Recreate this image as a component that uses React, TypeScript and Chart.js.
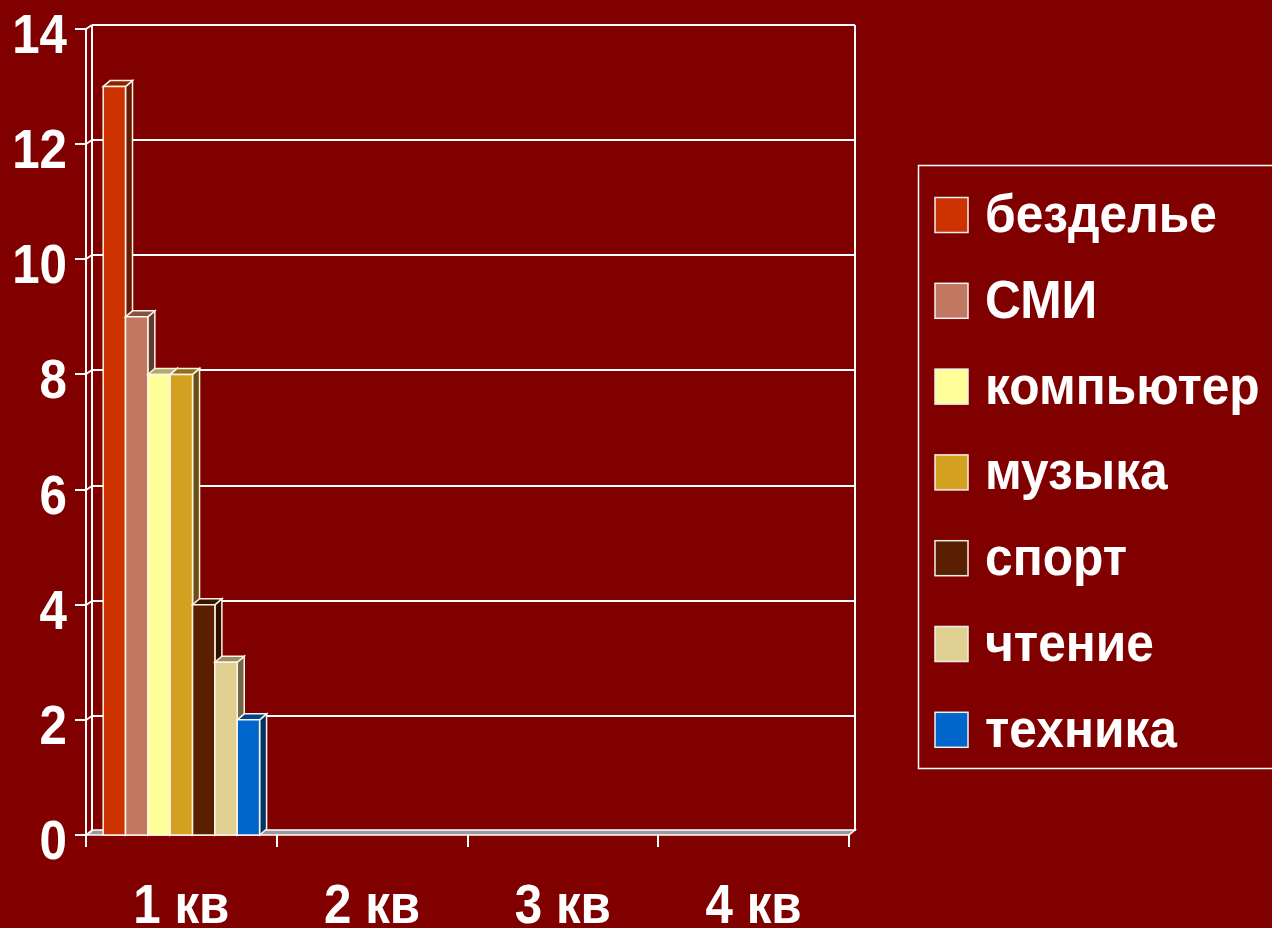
import React, { useEffect, useRef } from "react";
import { Chart, registerables } from "chart.js";

Chart.register(...registerables);

const categories = ["1 кв", "2 кв", "3 кв", "4 кв"];
const seriesNames = ["безделье", "СМИ", "компьютер", "музыка", "спорт", "чтение", "техника"];
const bezdelye = [13, null, null, null];
const smi = [9, null, null, null];
const computer = [8, null, null, null];
const music = [8, null, null, null];
const sport = [4, null, null, null];
const reading = [3, null, null, null];
const tech = [2, null, null, null];
const seriesValues = [bezdelye, smi, computer, music, sport, reading, tech];
const seriesColors = ["#CC3300", "#C07860", "#FFFF99", "#D4A020", "#5A1E00", "#E0D092", "#0066CC"];
const yMin = 0;
const yMax = 14;
const yStep = 2;

const FONT = "'Liberation Sans', Arial, sans-serif";
const DX = 6;
const DY = -4;
const BAR_DX = 7;
const BAR_DY = -6;
const BG = "#800000";
const AXIS_SCALE_X = 0.88;
const LEGEND_SCALE_X = 0.92;

function shade(hex: string, f: number) {
  const n = parseInt(hex.slice(1), 16);
  const r = Math.round(((n >> 16) & 255) * f);
  const g = Math.round(((n >> 8) & 255) * f);
  const b = Math.round((n & 255) * f);
  return `rgb(${r},${g},${b})`;
}

function poly(ctx: CanvasRenderingContext2D, pts: number[][], fill: string | null, stroke: string | null, lw = 1.5) {
  ctx.beginPath();
  ctx.moveTo(pts[0][0], pts[0][1]);
  for (let i = 1; i < pts.length; i++) ctx.lineTo(pts[i][0], pts[i][1]);
  ctx.closePath();
  if (fill) {
    ctx.fillStyle = fill;
    ctx.fill();
  }
  if (stroke) {
    ctx.strokeStyle = stroke;
    ctx.lineWidth = lw;
    ctx.stroke();
  }
}

function squeezedText(
  ctx: CanvasRenderingContext2D,
  text: string,
  x: number,
  y: number,
  sx: number,
  align: "left" | "right" | "center"
) {
  ctx.save();
  ctx.translate(x, y);
  ctx.scale(sx, 1);
  ctx.textAlign = align;
  ctx.textBaseline = "alphabetic";
  ctx.fillText(text, 0, 0);
  ctx.restore();
}

const wallPlugin = {
  id: "wall3d",
  beforeDatasetsDraw(chart: any) {
    const { ctx, chartArea } = chart;
    const { left, right, top, bottom } = chartArea;
    const ys = chart.scales.y;
    ctx.save();
    poly(
      ctx,
      [
        [left, bottom],
        [right, bottom],
        [right + DX, bottom + DY - 1],
        [left + DX, bottom + DY - 1],
      ],
      "#9a9a9a",
      "#ffffff",
      1.5
    );
    ctx.strokeStyle = "#ffffff";
    ctx.lineWidth = 2;
    ys.ticks.forEach((t: any) => {
      const py = Math.round(ys.getPixelForValue(t.value));
      ctx.beginPath();
      if (t.value !== yMin) {
        ctx.moveTo(left + DX, py + DY);
        ctx.lineTo(right + DX, py + DY);
      }
      ctx.moveTo(left, py);
      ctx.lineTo(left + DX, py + DY);
      ctx.moveTo(left - 11, py);
      ctx.lineTo(left, py);
      ctx.stroke();
    });
    ctx.beginPath();
    ctx.moveTo(left, top);
    ctx.lineTo(left, bottom);
    ctx.moveTo(left + DX, top + DY);
    ctx.lineTo(left + DX, bottom + DY);
    ctx.moveTo(right + DX, top + DY);
    ctx.lineTo(right + DX, bottom + DY);
    for (let i = 0; i <= categories.length; i++) {
      const px = Math.round(left + (i * (right - left)) / categories.length);
      ctx.moveTo(px, bottom);
      ctx.lineTo(px, bottom + 12);
    }
    ctx.stroke();
    ctx.restore();
  },
  afterDatasetsDraw(chart: any) {
    const { ctx } = chart;
    ctx.save();
    const n = chart.data.datasets.length;
    for (let j = 0; j < categories.length; j++) {
      for (let i = 0; i < n; i++) {
        const ds = chart.data.datasets[i];
        if (ds.data[j] === null || ds.data[j] === undefined) continue;
        const el = chart.getDatasetMeta(i).data[j];
        if (!el) continue;
        const p = el.getProps(["x", "y", "base", "width"], true);
        const l = p.x - p.width / 2;
        const r = p.x + p.width / 2;
        const t = p.y;
        const b = p.base;
        const col = ds.backgroundColor as string;
        const edge = "#fff4e8";
        poly(ctx, [[r, t], [r + BAR_DX, t + BAR_DY], [r + BAR_DX, b + BAR_DY], [r, b]], shade(col, 0.5), edge, 1.5);
        poly(ctx, [[l, t], [r, t], [r + BAR_DX, t + BAR_DY], [l + BAR_DX, t + BAR_DY]], shade(col, 0.68), edge, 1.5);
        poly(ctx, [[l, t], [r, t], [r, b], [l, b]], col, edge, 1.5);
      }
    }
    ctx.restore();
  },
  afterDraw(chart: any) {
    const { ctx, chartArea } = chart;
    const xs = chart.scales.x;
    const ys = chart.scales.y;
    ctx.save();
    ctx.fillStyle = "#ffffff";
    ctx.font = `bold 56px ${FONT}`;
    ys.ticks.forEach((t: any) => {
      const py = ys.getPixelForValue(t.value);
      squeezedText(ctx, String(t.value), 67, py + 24, AXIS_SCALE_X, "right");
    });
    categories.forEach((c, i) => {
      const px = xs.getPixelForTick(i);
      squeezedText(ctx, c, px, chartArea.bottom + 88, AXIS_SCALE_X, "center");
    });

    const bx = 918;
    const by = 165;
    const bw = 380;
    const bh = 603;
    ctx.strokeStyle = "#ffffff";
    ctx.lineWidth = 1.5;
    ctx.strokeRect(bx + 0.5, by + 0.5, bw, bh);
    const first = 215;
    const gap = 85.8;
    chart.data.datasets.forEach((ds: any, i: number) => {
      const cy = first + i * gap;
      ctx.fillStyle = ds.backgroundColor;
      ctx.fillRect(935, cy - 17.5, 33, 35);
      ctx.strokeStyle = "#f0f0f0";
      ctx.lineWidth = 1.5;
      ctx.strokeRect(935, cy - 17.5, 33, 35);
      ctx.fillStyle = "#ffffff";
      ctx.font = `bold 54px ${FONT}`;
      squeezedText(ctx, ds.label, 985, cy + 17, LEGEND_SCALE_X, "left");
    });
    ctx.restore();
  },
};

export default function App() {
  const ref = useRef<HTMLCanvasElement | null>(null);
  useEffect(() => {
    document.body.style.margin = "0";
    document.body.style.background = BG;
    const canvas = ref.current;
    if (!canvas) return;
    const chart = new Chart(canvas, {
      type: "bar",
      data: {
        labels: categories,
        datasets: seriesNames.map((name, i) => ({
          label: name,
          data: seriesValues[i],
          backgroundColor: seriesColors[i],
          borderWidth: 0,
          categoryPercentage: 0.82,
          barPercentage: 1,
        })),
      },
      options: {
        responsive: false,
        animation: false,
        layout: { padding: { top: 29, right: 1272 - 849, left: 0, bottom: 0 } },
        plugins: { legend: { display: false }, tooltip: { enabled: false } },
        scales: {
          x: {
            grid: { display: false },
            border: { display: false },
            ticks: { display: false },
            afterFit(scale: any) {
              scale.height = 928 - 835;
            },
          },
          y: {
            min: yMin,
            max: yMax,
            grid: { display: false },
            border: { display: false },
            ticks: { stepSize: yStep, display: false },
            afterFit(scale: any) {
              scale.width = 86;
            },
          },
        },
      },
      plugins: [wallPlugin],
    });
    return () => chart.destroy();
  }, []);
  return (
    <div style={{ position: "absolute", left: 0, top: 0, width: 1272, height: 928, background: BG, overflow: "hidden" }}>
      <canvas ref={ref} width={1272} height={928} style={{ display: "block" }} />
    </div>
  );
}
